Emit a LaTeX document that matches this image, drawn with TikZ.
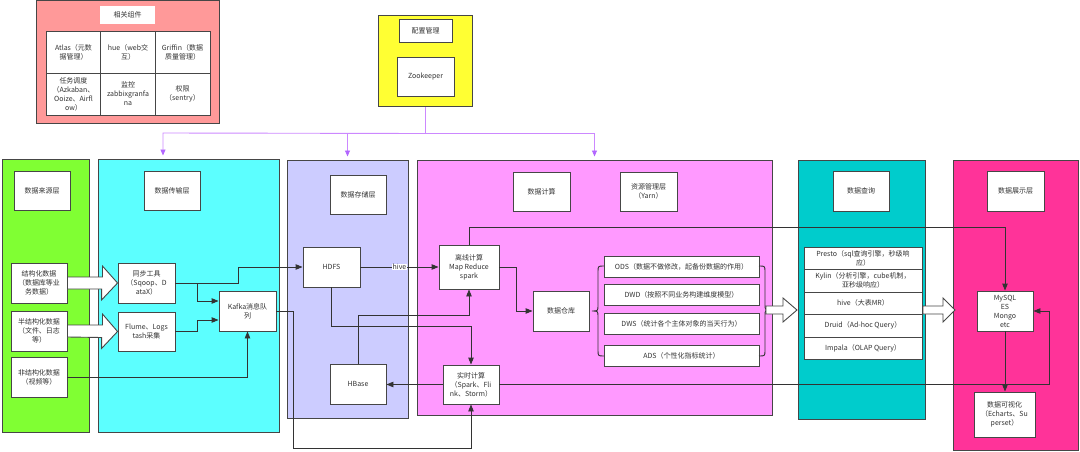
\documentclass[tikz,border=0pt]{standalone}
\usepackage{fontspec}
\setmainfont{Noto Sans CJK SC}
\usetikzlibrary{arrows.meta,calc}

\definecolor{cmpc}{RGB}{255,153,153}
\definecolor{zkc}{RGB}{255,255,51}
\definecolor{srcc}{RGB}{128,255,51}
\definecolor{tlc}{RGB}{92,255,255}
\definecolor{stc}{RGB}{204,204,255}
\definecolor{cpc}{RGB}{255,153,255}
\definecolor{qrc}{RGB}{0,204,204}
\definecolor{dsc}{RGB}{255,51,153}
\definecolor{boxline}{RGB}{70,70,70}
\definecolor{wire}{RGB}{51,51,51}
\definecolor{cfgline}{RGB}{204,136,255}
\definecolor{cfgtip}{RGB}{178,102,255}
\definecolor{txt}{RGB}{51,51,51}

\tikzset{every picture/.style={line width=0.75pt}}

\begin{document}
\begin{tikzpicture}[x=1pt,y=1pt,yscale=-1,xscale=1,
  sz/.style 2 args={minimum width=#1pt, minimum height=#2pt},
  layer/.style={draw=boxline, line width=1pt, inner sep=0pt},
  box/.style={draw=boxline, fill=white, line width=0.9pt, inner sep=0.75pt, align=center, text=txt, font=\fontsize{7}{9}\selectfont},
  conn/.style={draw=wire, line width=0.9pt, -{Triangle[length=7pt,width=5.5pt]}},
  cfg/.style={draw=cfgline, line width=0.9pt},
  cfgarrow/.style={cfg, -{Triangle[length=6pt,width=5pt,color=cfgtip]}, shorten >=3pt},
  fat/.style={draw=boxline, fill=white, line width=0.9pt, line join=miter},
  brc/.style={draw=wire, line width=0.9pt},
  hivelbl/.style={fill=white, inner sep=0.6pt, text=txt, font=\fontsize{7}{9}\selectfont}]
\useasboundingbox (0,0) rectangle (1080,452);

% Layers
\node[layer, fill=cmpc, sz={183}{122}] (cmp) at (127.5,62) {};
\node[layer, fill=zkc, sz={94}{91}] (zkl) at (425,61.5) {};
\node[layer, fill=srcc, sz={87}{273}] (src) at (45.5,295.5) {};
\node[layer, fill=tlc, sz={181}{273}] (tl) at (188.5,295.5) {};
\node[layer, fill=stc, sz={121}{258}] (st) at (347.5,289) {};
\node[layer, fill=cpc, sz={355}{255}] (cp) at (594.5,287.5) {};
\node[layer, fill=qrc, sz={127}{259}] (qr) at (861.5,289.5) {};
\node[layer, fill=dsc, sz={125}{290}] (ds) at (1015.5,305) {};

% Related components
\node[box, draw=none, sz={55}{18}] (cmpT) at (127.5,15) {相关组件};
\node[box, sz={55}{42}] (atlas) at (73.5,52) {Atlas（元数\\据管理）};
\node[box, sz={55}{42}] (hue) at (128,52) {hue（web交\\互）};
\node[box, sz={55}{42}] (griffin) at (182.5,52) {Griffin（数据\\质量管理）};
\node[box, sz={55}{42}] (sched) at (73.5,94) {任务调度\\（Azkaban、\\Ooize、Airfl\\ow）};
\node[box, sz={55}{42}] (mon) at (128,94) {监控\\zabbixgranfa\\na};
\node[box, sz={55}{42}] (auth) at (182.5,94) {权限\\（sentry）};

% Config management
\node[box, sz={53}{23}] (cfgT) at (425.5,30.5) {配置管理};
\node[box, sz={57}{39}] (zk) at (425.5,76.5) {Zookeeper};

% Layer titles
\node[box, sz={56}{39}] (srcT) at (42,190.5) {数据来源层};
\node[box, sz={56}{39}] (tlT) at (172,190.5) {数据传输层};
\node[box, sz={56}{39}] (stT) at (358,194.5) {数据存储层};
\node[box, sz={57}{39}] (cpT) at (541.5,191.5) {数据计算};
\node[box, sz={57}{39}] (yarn) at (648.5,191.5) {资源管理层\\（Yarn）};
\node[box, sz={56}{40}] (qrT) at (861,191) {数据查询};
\node[box, sz={57}{40}] (dsT) at (1015.5,191) {数据展示层};

% Sources
\node[box, sz={56}{40}] (s1) at (39,283) {结构化数据\\（数据库等业\\务数据）};
\node[box, sz={56}{40}] (s2) at (39,331) {半结构化数据\\（文件、日志\\等）};
\node[box, sz={56}{40}] (s3) at (39,377) {非结构化数据\\（视频等）};

% Transfer
\node[box, sz={57}{40}] (sync) at (146.5,283) {同步工具\\（Sqoop、D\\ataX）};
\node[box, sz={57}{39}] (flume) at (146.5,331.5) {Flume、Logs\\tash采集};
\node[box, sz={57}{40}] (kafka) at (247.5,311) {Kafka消息队\\列};

% Storage
\node[box, sz={57}{40}] (hdfs) at (331.5,267) {HDFS};
\node[box, sz={56}{40}] (hbase) at (358,384) {HBase};

% Compute
\node[box, sz={60}{44}] (offline) at (469,267) {离线计算\\Map Reduce\\spark};
\node[box, sz={56}{39}] (rt) at (471,384.5) {实时计算\\（Spark、Fli\\nk、Storm）};
\node[box, sz={56}{40}] (dw) at (561,311) {数据仓库};
\node[box, sz={155}{21}] (ods) at (681.5,266.5) {ODS（数据不做修改，起备份数据的作用）};
\node[box, sz={155}{21}] (dwd) at (681.5,294.5) {DWD（按照不同业务构建维度模型）};
\node[box, sz={155}{21}] (dws) at (681.5,323.5) {DWS（统计各个主体对象的当天行为）};
\node[box, sz={155}{21}] (ads) at (681.5,355.5) {ADS（个性化指标统计）};

% Query
\node[box, sz={118}{22}] (presto) at (863,258) {Presto（sql查询引擎，秒级响\\应）};
\node[box, sz={118}{23}] (kylin) at (863,280.5) {Kylin（分析引擎，cube机制，\\亚秒级响应）};
\node[box, sz={118}{22}] (hive) at (863,303) {hive（大表MR）};
\node[box, sz={118}{23}] (druid) at (863,325.5) {Druid（Ad-hoc Query）};
\node[box, sz={118}{22}] (impala) at (863,348) {Impala（OLAP Query）};

% Display
\node[box, sz={56}{40}] (db) at (1005,311) {MySQL\\ES\\Mongo\\etc};
\node[box, sz={61}{45}] (vis) at (1004.5,414.5) {数据可视化\\（Echarts、Su\\perset）};

% Config lines
\draw[cfg] (zkl.south) -- ++(0,26) coordinate (hub);
\coordinate (c1) at (163,133);
\draw[cfgarrow] (hub) -- (c1) -- (c1 |- tl.north);
\draw[cfgarrow] (hub) -| (st.north);
\draw[cfgarrow] (hub) -| (cp.north);

% Fat arrows
\draw[fat] ($(s1.east)+(0,-6)$) -- ++(35,0) -- ++(0,-11) -- (sync.west) -- ++(-16,17) -- ++(0,-11) -- ($(s1.east)+(0,6)$) -- cycle;
\draw[fat] ($(s2.east)+(0,-6)$) -- ++(35,0) -- ++(0,-11) -- (flume.west) -- ++(-16,17) -- ++(0,-11) -- ($(s2.east)+(0,6)$) -- cycle;

% Braces
\draw[brc] (604,266) .. controls (598,266) .. (598,272) -- (598,305) .. controls (598,311) .. (592,311) .. controls (598,311) .. (598,317) -- (598,350) .. controls (598,356) .. (604,356);
\draw[brc] (759,266) .. controls (765,266) .. (765,272) -- (765,304) .. controls (765,310) .. (771,310) .. controls (765,310) .. (765,316) -- (765,350) .. controls (765,356) .. (759,356);
\coordinate (brR) at (766,310);
\coordinate (qrR) at (923,310);
\draw[fat] ($(brR)+(0,-4)$) -- ++(17,0) -- ++(0,-8) -- ++(14,12) -- ++(-14,12) -- ++(0,-8) -- ($(brR)+(0,4)$) -- cycle;
\draw[fat] ($(qrR)+(0,-4)$) -- ++(20,0) -- ++(0,-8) -- ++(12,12) -- ++(-12,12) -- ++(0,-8) -- ($(qrR)+(0,4)$) -- cycle;

% Connectors
\draw[conn] (sync.east) -- ++(63,0) |- (hdfs.west);
\draw[conn] ($(sync.east)+(22,0)$) |- ($(kafka.west)+(0,-10)$);
\draw[conn] (flume.east) -- ++(22,0) |- ($(kafka.west)+(0,9)$);
\draw[conn] (s3.east) -| (kafka.south);
\draw[conn] (kafka.east) -- ++(17,0) -- ++(0,137) -| (rt.south);
\draw[conn] (hdfs.east) -- node[hivelbl] {hive} (offline.west);
\draw[conn] (hdfs.south) -- ++(0,39) -| (rt.north);
\draw[conn] (rt.west) -- (rt.west -| hbase.east);
\draw[conn] (hbase.north) -- ++(0,-48) -| (offline.south);
\draw[conn] (offline.east) -- ++(17,0) |- (dw.west);
\draw[conn] (offline.north) -- ++(0,-17) -| (db.north);
\draw[conn] (rt.east) -- ++(550,0) |- (db.east);
\draw[conn] (db.south) -- (db.south |- vis.north);

\end{tikzpicture}
\end{document}
